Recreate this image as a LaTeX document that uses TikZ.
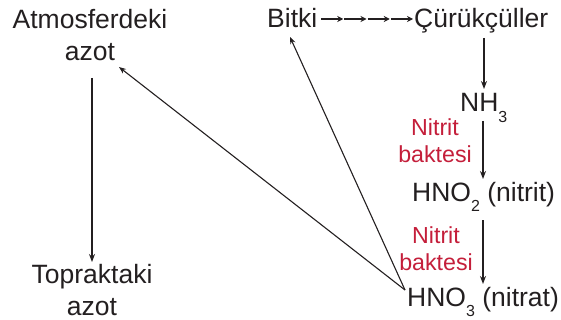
\documentclass[tikz,border=0pt]{standalone}
\usepackage{fontspec}
\setmainfont{Liberation Sans}
\usetikzlibrary{arrows.meta,calc}
\definecolor{txt}{RGB}{35,31,32}
\definecolor{bred}{RGB}{196,30,58}
\newcommand{\sbx}[1]{\raisebox{-0.38em}{\fontsize{16}{16}\selectfont #1}}
\begin{document}
\begin{tikzpicture}[x=1pt,y=-1pt,
  lbl/.style={inner sep=0pt,text=txt,font=\fontsize{26.5}{32}\selectfont,align=center},
  rlbl/.style={inner sep=0pt,text=bred,font=\fontsize{23.2}{27}\selectfont,align=center},
  arr/.style={draw=txt,line width=1.5pt,-{Stealth[length=8pt,width=6pt]}},
  darr/.style={draw=txt,line width=1.1pt,-{Stealth[length=7pt,width=5.5pt]}},
  sarr/.style={draw=txt,line width=1.3pt,-{Stealth[length=6pt,width=6pt]}}]
\useasboundingbox (0,0) rectangle (561,320);
\node[lbl,anchor=south] (atm) at (90,61) {Atmosferdeki\\azot};
\node[lbl,anchor=south] (top) at (92,316) {Topraktaki\\azot};
\node[lbl,anchor=base west] (bit) at (267,28) {Bitki};
\node[lbl,anchor=base west] (cur) at (414,28) {Çürükçüller};
\node[lbl,anchor=base west] (nh) at (460,112) {NH\sbx{3}};
\node[lbl,anchor=base west] (hno2) at (412,201) {HNO\sbx{2} (nitrit)};
\node[lbl,anchor=base west] (hno3) at (407,306) {HNO\sbx{3} (nitrat)};
\node[rlbl,anchor=base] (r1) at (435,163) {Nitrit\\baktesi};
\node[rlbl,anchor=base] (r2) at (436,270) {Nitrit\\baktesi};
\coordinate (s1) at (484,38);
\coordinate (e1) at (484,89);
\coordinate (s2) at (483,121);
\coordinate (e2) at (483,179);
\coordinate (s3) at (483,220);
\coordinate (e3) at (483,284);
\coordinate (sl) at (92,78);
\coordinate (el) at (92,262);
\coordinate (hx) at (405,290);
\coordinate (tb) at (290,37);
\coordinate (ta) at (119,67);
\coordinate (d0) at (320,19);
\coordinate (d1) at (413,19);
\draw[arr] (sl) -- (el);
\draw[arr] (s1) -- (e1);
\draw[arr] (s2) -- (e2);
\draw[arr] (s3) -- (e3);
\draw[darr] (hx) -- (tb);
\draw[darr] (hx) -- (ta);
\foreach \i in {0,1,2,3}{
  \draw[sarr] ($(d0)!{\i/4}!(d1)+(1,0)$) -- ($(d0)!{(\i+1)/4}!(d1)$);
}
\end{tikzpicture}
\end{document}
